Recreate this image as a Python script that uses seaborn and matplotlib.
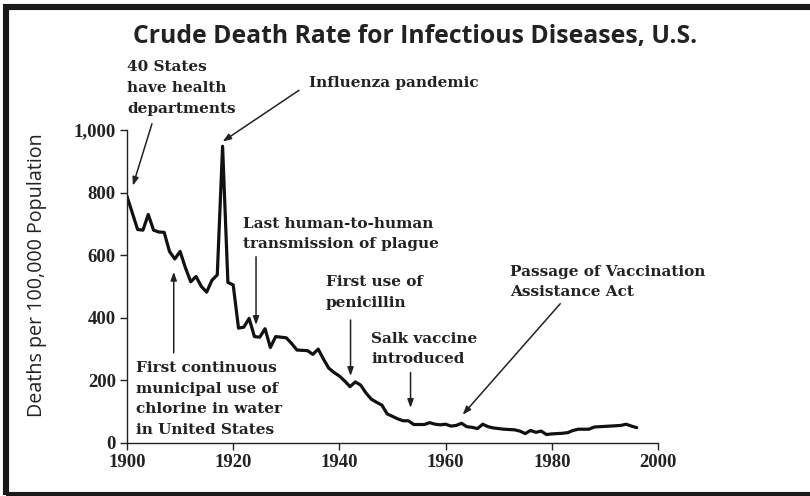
import pandas as pd
import seaborn as sns
import matplotlib.pyplot as plt
from matplotlib.patches import Rectangle

# Crude death rate, infectious diseases, U.S. (per 100,000)
years = list(range(1900, 1997))
rates = [788, 735, 682, 680, 730, 680, 674, 673, 612, 588,
         612, 560, 515, 532, 500, 482, 520, 537, 948, 513,
         505, 367, 370, 398, 340, 338, 365, 305, 340, 338,
         336, 318, 297, 296, 295, 283, 300, 268, 239, 225,
         214, 198, 180, 195, 185, 160, 140, 130, 121, 93,
         85, 77, 71, 71, 59, 59, 59, 65, 60, 58,
         60, 54, 56, 63, 52, 50, 46, 60, 52, 48,
         46, 44, 43, 42, 38, 30, 40, 34, 38, 27,
         29, 30, 31, 33, 40, 44, 44, 44, 51, 52,
         53, 54, 55, 56, 60, 54, 49]

x_ticks = [1900, 1920, 1940, 1960, 1980, 2000]
y_ticks = [0, 200, 400, 600, 800, 1000]
y_ticklabels = ['0', '200', '400', '600', '800', '1,000']

# annotation text, arrow tip, arrow tail, text anchor (left, centre)
notes = [
    ("40 States\nhave health\ndepartments", (1901.1, 822), (1904.7, 1020), (1900.0, 1134)),
    ("Influenza pandemic", (1918.0, 963), (1932.4, 1127), (1934.2, 1151)),
    ("Last human-to-human\ntransmission of plague", (1924.3, 377), (1924.3, 595), (1921.8, 668)),
    ("First continuous\nmunicipal use of\nchlorine in water\nin United States", (1908.8, 547), (1908.8, 288), (1901.7, 141)),
    ("First use of\npenicillin", (1942.1, 214), (1942.1, 393), (1937.4, 480)),
    ("Salk vaccine\nintroduced", (1953.4, 112), (1953.4, 225), (1946.0, 300)),
    ("Passage of Vaccination\nAssistance Act", (1963.2, 90), (1981.6, 445), (1972.2, 514)),
]

df = pd.DataFrame({'year': years, 'rate': rates})

sns.set_style("ticks")
serif = ['Liberation Serif', 'DejaVu Serif']
note_font = ['DejaVu Serif']
sans = ['Open Sans', 'DejaVu Sans']

fig = plt.figure(figsize=(8.1, 4.96), dpi=100)
ax = fig.add_axes([0.1568, 0.1069, 0.6555, 0.631])

sns.lineplot(data=df, x='year', y='rate', color='#111111', linewidth=2.3, ax=ax)

ax.set_xlim(1900, 2000)
ax.set_ylim(0, 1000)
ax.set_xticks(x_ticks)
ax.set_yticks(y_ticks)
ax.set_yticklabels(y_ticklabels)
sns.despine(ax=ax)
for s in ['left', 'bottom']:
    ax.spines[s].set_linewidth(1.0)
    ax.spines[s].set_color('#222222')
ax.tick_params(length=5, width=1.0, color='#222222', pad=3)
for lab in ax.get_xticklabels() + ax.get_yticklabels():
    lab.set_family(serif)
    lab.set_fontweight('bold')
    lab.set_fontsize(13.5)
    lab.set_color('#222222')

ax.set_xlabel('')
ax.set_ylabel('')
fig.text(37 / 810, 1 - 275 / 496, 'Deaths per 100,000 Population', rotation=90,
         ha='center', va='center', family=sans, fontsize=14.2, color='#222222')

for text, tip, tail, pos in notes:
    ax.annotate('', xy=tip, xytext=tail,
                arrowprops=dict(arrowstyle='-|>,head_length=0.5,head_width=0.18',
                                color='#222222', lw=1.1, shrinkA=0, shrinkB=0),
                annotation_clip=False)
    ax.text(pos[0], pos[1], text, ha='left', va='center', family=note_font,
            fontweight='bold', fontsize=11, color='#222222', linespacing=1.6,
            clip_on=False)

fig.text(415 / 810, 1 - 37 / 496, 'Crude Death Rate for Infectious Diseases, U.S.',
         ha='center', va='center', family=sans, fontweight='bold',
         fontsize=17.8, color='#222222')

# black frame: left, top and bottom edges visible, right edge runs off the image
fig.patches.append(Rectangle((5.8 / 810, 1.5 / 496), 1.2, (496 - 7 - 1.5) / 496,
                             transform=fig.transFigure, fill=False,
                             edgecolor='#1a1a1a', linewidth=4.4))

fig.savefig('out.png', dpi=100)
